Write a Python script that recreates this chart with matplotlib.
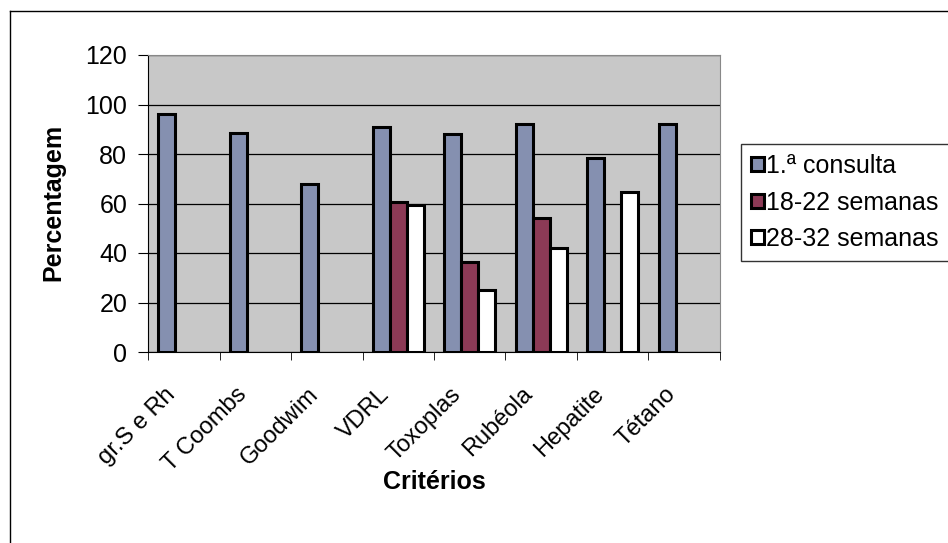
import matplotlib
matplotlib.use('Agg')
import matplotlib.pyplot as plt
import matplotlib.transforms as mtransforms
import numpy as np
from matplotlib.lines import Line2D

plt.rcParams['font.family'] = ['Liberation Sans', 'DejaVu Sans']

criterios = ['gr.S e Rh', 'T Coombs', 'Goodwim', 'VDRL', 'Toxoplas', 'Rubéola', 'Hepatite', 'Tétano']
consulta_1 = [96, 88.5, 68, 91, 88, 92, 78.5, 92]
sem_18_22 = [0, 0, 0, 60.5, 36.5, 54, 0, 0]
sem_28_32 = [0, 0, 0, 59.5, 25, 42, 64.5, 0]
series_names = ['1.ª consulta', '18-22 semanas', '28-32 semanas']

fig = plt.figure(figsize=(9.48, 5.43), dpi=100)
ax = fig.add_axes([148 / 948, 1 - 352 / 543, (720 - 148) / 948, (352 - 55) / 543])

x = np.arange(len(criterios))
w = 0.24
colors = ['#8590b0', '#8c3a56', '#ffffff']
for k, (vals, name, c) in enumerate(zip([consulta_1, sem_18_22, sem_28_32], series_names, colors)):
    xs = [xi + (k - 1) * w for xi, v in zip(x, vals) if v > 0]
    vs = [v for v in vals if v > 0]
    ax.bar(xs, vs, width=w, color=c, edgecolor='black', linewidth=2.2, label=name, zorder=3)

ax.set_facecolor('#c8c8c8')
ax.set_xlim(-0.5, len(criterios) - 0.5)
ax.set_ylim(0, 120)
ax.set_yticks(range(0, 121, 20))
ax.yaxis.grid(True, color='black', linewidth=0.9)
ax.set_axisbelow(True)

for s in ['top', 'right']:
    ax.spines[s].set_color('#888888')
    ax.spines[s].set_linewidth(0.8)
ax.spines['left'].set_color('black')
ax.spines['bottom'].set_color('black')

ax.set_xticks(x)
ax.set_xticklabels(criterios, rotation=45, ha='right', va='center', rotation_mode='anchor', fontsize=17)
ax.tick_params(axis='x', length=0, pad=18)
shift = mtransforms.ScaledTranslation(-0.12, -0.14, fig.dpi_scale_trans)
for lbl in ax.get_xticklabels():
    lbl.set_transform(lbl.get_transform() + shift)
ax.set_xticks(np.arange(-0.5, len(criterios), 1), minor=True)
ax.tick_params(axis='x', which='minor', length=6, direction='out', color='black')
ax.tick_params(axis='y', length=7, direction='out', labelsize=18, pad=8)

ax.set_ylabel('Percentagem', fontsize=18, fontweight='bold', va='center', ha='center')
ax.yaxis.set_label_coords((53 - 148) / 572, 0.505)
ax.set_xlabel('Critérios', fontsize=18, fontweight='bold', va='center', ha='center')
ax.xaxis.set_label_coords(0.5, (352 - 482) / 297)

leg = ax.legend(loc='upper left', bbox_to_anchor=(741 / 948, 1 - 144 / 543), bbox_transform=fig.transFigure,
                fontsize=18, frameon=True, fancybox=False, edgecolor='black', handlelength=0.5,
                handleheight=0.5, handletextpad=0.1, borderpad=0.4, labelspacing=0.5, borderaxespad=0)
leg.get_frame().set_linewidth(1.0)

# outer chart frame (only left and top visible in the scan)
fig.add_artist(Line2D([10 / 948, 10 / 948], [0, 1 - 11 / 543], color='black', linewidth=1, transform=fig.transFigure))
fig.add_artist(Line2D([10 / 948, 1], [1 - 11 / 543, 1 - 11 / 543], color='black', linewidth=1, transform=fig.transFigure))

fig.savefig('out.png', dpi=100)
